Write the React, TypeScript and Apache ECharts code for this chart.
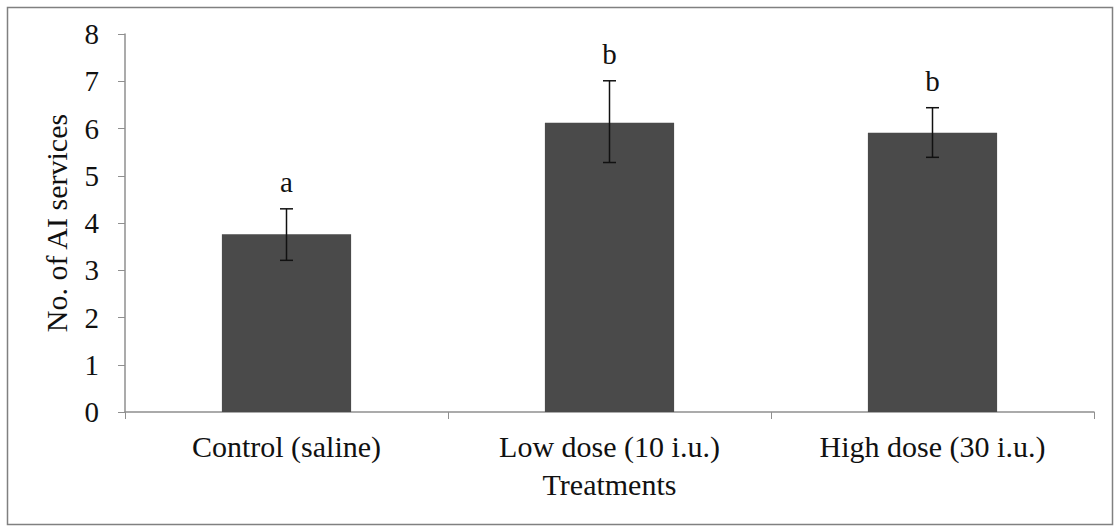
import React, { useEffect, useRef } from "react";
import * as echarts from "echarts";

const categories = ["Control (saline)", "Low dose (10 i.u.)", "High dose (30 i.u.)"];
const means = [3.76, 6.12, 5.91];
const errUpper = [4.3, 7.01, 6.44];
const errLower = [3.21, 5.28, 5.39];
const letters = ["a", "b", "b"];
const yTicks = [0, 1, 2, 3, 4, 5, 6, 7, 8];

const FONT = "'Liberation Serif', 'Times New Roman', serif";

export default function App() {
  const ref = useRef<HTMLDivElement>(null);
  useEffect(() => {
    const chart = echarts.init(ref.current!, null, { renderer: "svg" });
    const errData = categories.map((_, i) => [i, errLower[i], errUpper[i], letters[i]]);
    chart.setOption({
      animation: false,
      backgroundColor: "#ffffff",
      graphic: [
        {
          type: "rect",
          shape: { x: 7.5, y: 7.5, width: 1105, height: 517 },
          style: { fill: "none", stroke: "#808080", lineWidth: 1.5 },
          silent: true,
        },
      ],
      grid: { left: 125, right: 25, top: 34, bottom: 115, containLabel: false },
      xAxis: {
        type: "category",
        data: categories,
        name: "Treatments",
        nameLocation: "middle",
        nameGap: 57,
        nameTextStyle: { fontFamily: FONT, fontSize: 30, color: "#111" },
        axisLine: { lineStyle: { color: "#8f8f8f", width: 1.5 } },
        axisTick: { show: true, alignWithLabel: false, length: 7, lineStyle: { color: "#8f8f8f" } },
        axisLabel: { fontFamily: FONT, fontSize: 30, color: "#111", margin: 19 },
      },
      yAxis: {
        type: "value",
        min: yTicks[0],
        max: yTicks[yTicks.length - 1],
        interval: 1,
        name: "No. of AI services",
        nameLocation: "middle",
        nameGap: 54,
        nameTextStyle: { fontFamily: FONT, fontSize: 30, color: "#111" },
        axisLine: { show: true, lineStyle: { color: "#8f8f8f", width: 1.5 } },
        axisTick: { show: true, length: 7, inside: false, lineStyle: { color: "#8f8f8f" } },
        axisLabel: { fontFamily: FONT, fontSize: 29, color: "#111", margin: 26 },
        splitLine: { show: false },
      },
      series: [
        {
          type: "bar",
          data: means,
          barWidth: "40%",
          itemStyle: { color: "#4a4a4a" },
          silent: true,
        },
        {
          type: "custom",
          data: errData,
          silent: true,
          z: 10,
          renderItem: (params: any, api: any) => {
            const x = api.value(0);
            const lo = api.coord([x, api.value(1)]);
            const hi = api.coord([x, api.value(2)]);
            const cap = 6.5;
            const style = { stroke: "#111", lineWidth: 1.5 };
            return {
              type: "group",
              children: [
                { type: "line", shape: { x1: hi[0], y1: hi[1], x2: lo[0], y2: lo[1] }, style },
                { type: "line", shape: { x1: hi[0] - cap, y1: hi[1], x2: hi[0] + cap, y2: hi[1] }, style },
                { type: "line", shape: { x1: lo[0] - cap, y1: lo[1], x2: lo[0] + cap, y2: lo[1] }, style },
                {
                  type: "text",
                  x: hi[0],
                  y: hi[1] - 27,
                  style: {
                    text: String(api.value(3)),
                    fontFamily: FONT,
                    fontSize: 29,
                    fill: "#111",
                    align: "center",
                    verticalAlign: "middle",
                  },
                },
              ],
            };
          },
        },
      ],
    });
    return () => chart.dispose();
  }, []);
  return (
    <div
      ref={ref}
      style={{ position: "fixed", left: 0, top: 0, width: 1119, height: 527 }}
    />
  );
}
